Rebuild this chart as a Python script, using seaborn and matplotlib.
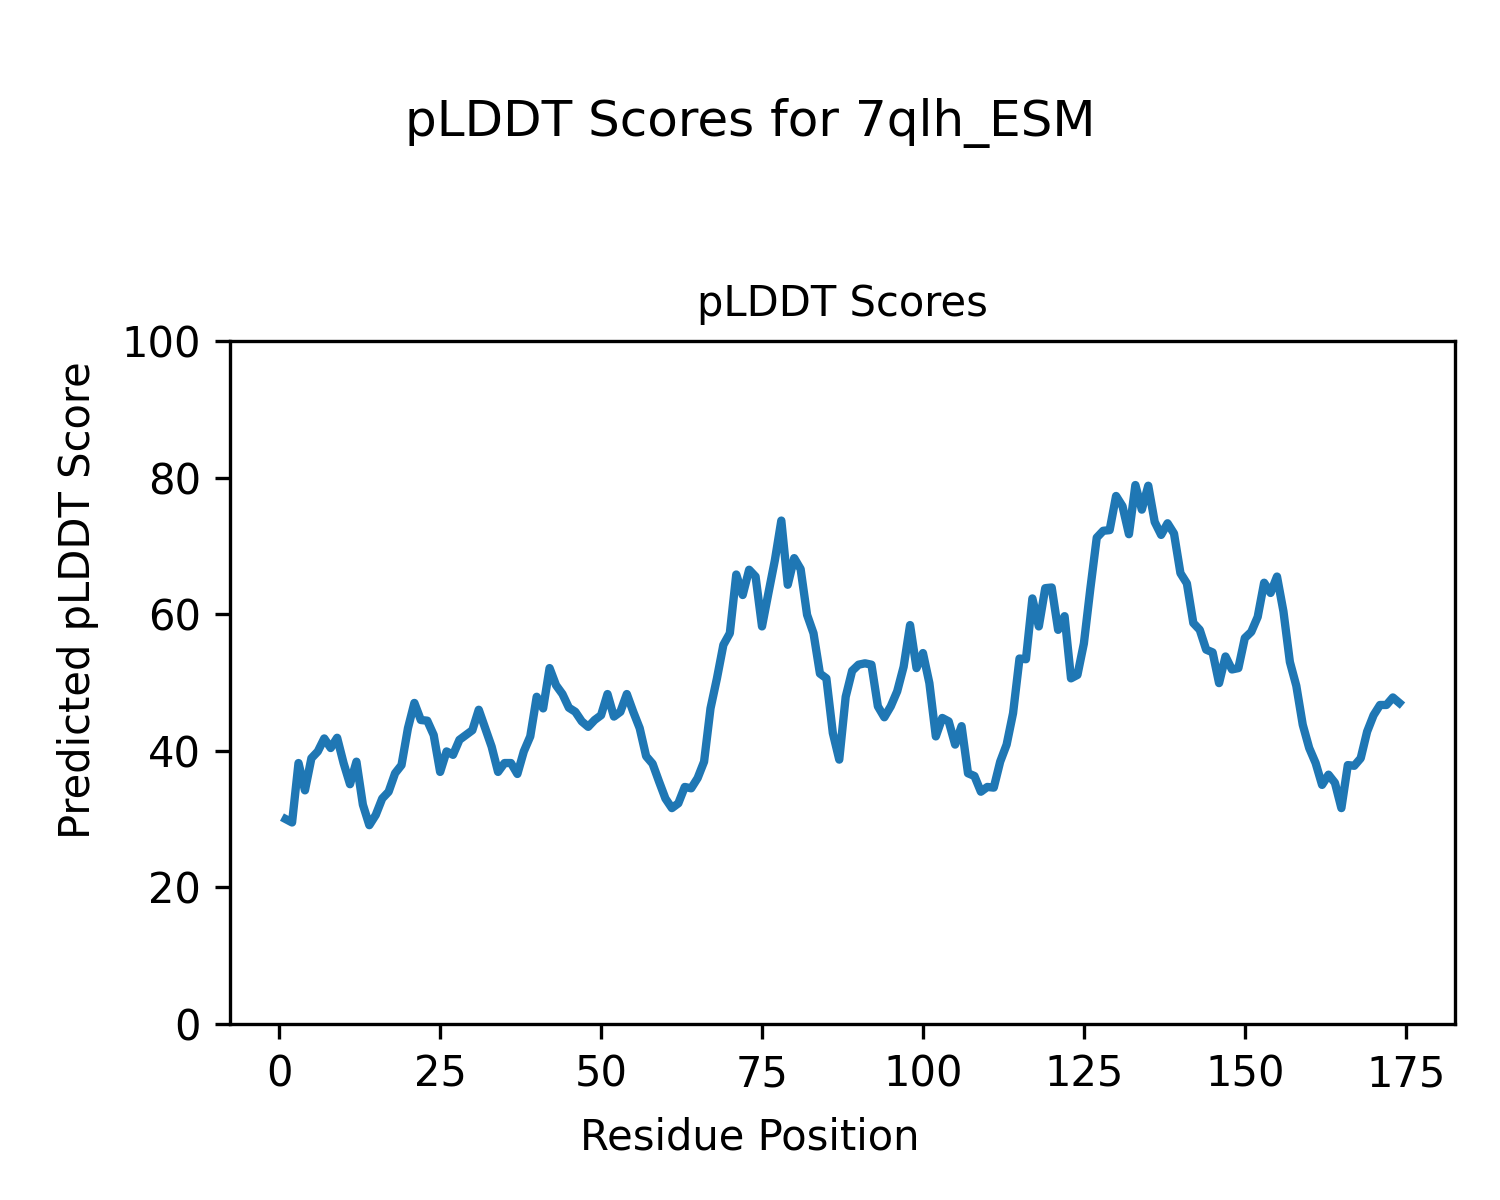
import matplotlib
matplotlib.use("Agg")
import matplotlib.pyplot as plt
import seaborn as sns
import numpy as np
import pandas as pd

residues = list(range(1, 175))
plddt = [
    30.0, 29.5, 38.2, 34.2, 38.9, 39.9, 41.8, 40.4, 41.9, 38.2,
    35.1, 38.4, 32.1, 29.1, 30.6, 33.0, 34.0, 36.7, 37.9, 43.3,
    47.0, 44.5, 44.4, 42.3, 36.9, 39.9, 39.4, 41.6, 42.3, 43.0,
    46.0, 43.3, 40.6, 36.9, 38.2, 38.2, 36.6, 39.9, 42.1, 47.9,
    46.2, 52.1, 49.6, 48.3, 46.3, 45.7, 44.3, 43.5, 44.5, 45.2,
    48.3, 45.0, 45.7, 48.3, 45.7, 43.3, 39.2, 38.1, 35.5, 33.0,
    31.6, 32.3, 34.7, 34.5, 36.0, 38.4, 46.2, 50.6, 55.5, 57.2,
    65.8, 62.8, 66.5, 65.5, 58.2, 63.1, 67.9, 73.7, 64.3, 68.2,
    66.6, 59.9, 57.2, 51.3, 50.6, 42.6, 38.7, 47.9, 51.7, 52.6,
    52.8, 52.6, 46.5, 44.9, 46.5, 48.7, 52.3, 58.4, 52.1, 54.3,
    49.9, 42.1, 44.8, 44.3, 40.9, 43.6, 36.7, 36.3, 34.0, 34.7,
    34.6, 38.4, 40.9, 45.5, 53.5, 53.4, 62.3, 58.2, 63.8, 63.9,
    57.7, 59.7, 50.6, 51.1, 55.7, 63.7, 71.2, 72.2, 72.3, 77.3,
    75.8, 71.7, 78.9, 75.3, 78.8, 73.5, 71.6, 73.3, 71.8, 66.0,
    64.5, 58.7, 57.7, 54.8, 54.4, 49.9, 53.8, 51.9, 52.1, 56.5,
    57.4, 59.6, 64.6, 63.1, 65.5, 60.4, 53.0, 49.5, 43.8, 40.4,
    38.2, 35.0, 36.5, 35.3, 31.6, 37.9, 37.8, 38.9, 42.8, 45.2,
    46.7, 46.7, 47.8, 47.0,
]

df = pd.DataFrame({"Residue Position": residues, "pLDDT": plddt})

fig = plt.figure(figsize=(5, 4), dpi=300)
ax = fig.add_axes([0.1533, 0.1467, 0.8167, 0.5692])
sns.lineplot(data=df, x="Residue Position", y="pLDDT", ax=ax, color="#1f77b4", linewidth=2)
ax.set_ylim(0, 100)
ax.set_xlabel("")
ax.set_ylabel("")
ax.set_title("pLDDT Scores", fontsize=10)
fig.suptitle("pLDDT Scores for 7qlh_ESM", fontsize=12, y=0.918, va="top")
fig.supxlabel("Residue Position", fontsize=10, y=0.0517, va="center")
fig.supylabel("Predicted pLDDT Score", fontsize=10, x=0.052, ha="center")
fig.savefig("out.png", dpi=300)
